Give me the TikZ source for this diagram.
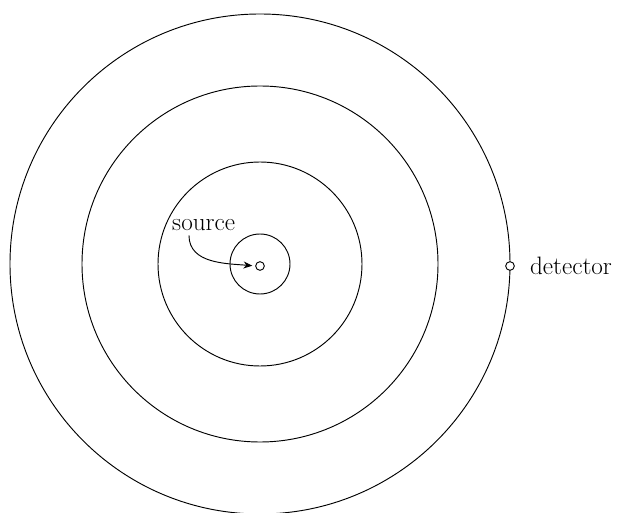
\documentclass[tikz,border=0pt]{standalone}
\usetikzlibrary{arrows.meta, positioning}

\begin{document}
\begin{tikzpicture}[
    x=0.03cm, y=0.03cm,
    >=Stealth,
    front/.style={draw=black, line width=0.8pt},
    port/.style={circle, draw=black, line width=0.8pt, fill=white, inner sep=0pt, minimum size=0.26cm},
    lbl/.style={inner sep=0pt, font=\fontsize{21.5}{26}\selectfont},
    line/.style={draw=black, line width=0.8pt, -{Stealth[length=7.5pt, width=6pt]}}
]
    % Marco
    \useasboundingbox (-260,-249) rectangle (364,264);

    % Frentes de onda
    \foreach \r in {30, 102, 178, 250}
        \draw [front] (0,0) circle (\r);

    % Fuente y detector
    \node [port] (src) at (0,-2) {};
    \node [port] (det) at (250,-2) {};

    \node [lbl, anchor=base west] (srclbl) at (-88,33) {source};
    \node [lbl, right=0.45cm of det] (detlbl) {detector};

    % Flecha
    \draw [line, shorten >=2.5pt] ([xshift=-0.44cm, yshift=-0.12cm]srclbl.south)
        to[out=-90, in=175] (src.west);

\end{tikzpicture}
\end{document}
